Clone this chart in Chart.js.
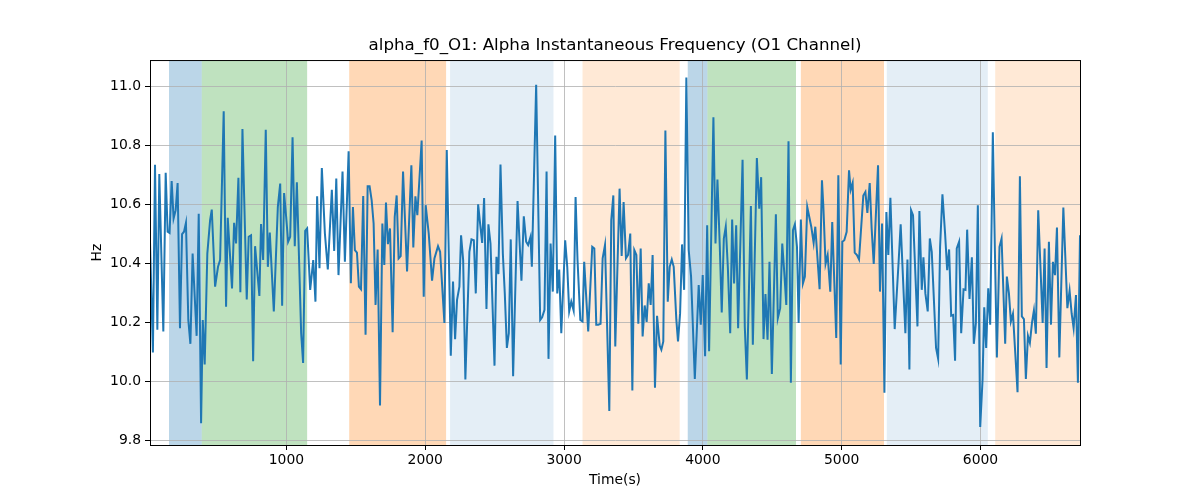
<!DOCTYPE html>
<html>
<head>
<meta charset="utf-8">
<script src="https://cdn.jsdelivr.net/npm/chart.js@4/dist/chart.umd.min.js"></script>
<style>
  body { margin: 0; background: #fff; }
</style>
</head>
<body>
<canvas id="myChart" width="1200" height="500"></canvas>
<script>
// time axis (seconds) and instantaneous alpha frequency (Hz)
const timeSec = [
  17, 38, 53, 70, 84, 113, 130, 144, 158, 173, 187, 202, 216, 233, 248, 262, 276, 293, 308, 324,
  353, 368, 385, 397, 411, 430, 450, 462, 486, 507, 522, 548, 565, 577, 608, 623, 637, 654, 668, 683,
  714, 728, 745, 760, 774, 805, 817, 832, 851, 866, 880, 909, 938, 955, 969, 983, 998, 1012, 1027, 1044,
  1060, 1075, 1106, 1120, 1135, 1149, 1171, 1193, 1209, 1221, 1238, 1255, 1277, 1298, 1327, 1344, 1359, 1375,
  1404, 1421, 1448, 1464, 1479, 1493, 1508, 1522, 1537, 1553, 1570, 1585, 1599, 1614, 1628, 1642, 1657, 1674,
  1691, 1705, 1717, 1731, 1746, 1765, 1780, 1794, 1808, 1823, 1840, 1869, 1900, 1914, 1929, 1943, 1974, 1989,
  2003, 2025, 2049, 2066,
  2092, 2107, 2138, 2155, 2184, 2200, 2215, 2229, 2246, 2258, 2273, 2289, 2318, 2333, 2350, 2364, 2381, 2395,
  2410, 2424, 2441, 2455, 2470, 2499, 2513, 2527, 2542, 2559, 2573, 2588, 2602, 2616, 2633, 2665, 2693, 2710,
  2727, 2741, 2758, 2768,
  2799, 2828, 2842, 2859, 2874, 2888, 2903, 2919, 2936, 2951, 2965, 2980, 3008, 3023, 3037, 3052, 3069, 3083,
  3097, 3117, 3133, 3145, 3174, 3203, 3218, 3232, 3246, 3263, 3278, 3295, 3326, 3340, 3355, 3369, 3400, 3415, 3429,
  3446, 3461, 3477, 3492, 3506, 3521, 3535, 3552, 3566, 3581, 3595, 3610, 3624, 3638, 3655, 3670, 3689, 3701,
  3715, 3730, 3747, 3761, 3776, 3790, 3809, 3821, 3836, 3850, 3865, 3881, 3898, 3915, 3942, 3970, 3985, 3999,
  4016, 4031, 4045, 4076, 4091, 4105, 4122,
  4136, 4151, 4165, 4180, 4197, 4211, 4225, 4240, 4254, 4286, 4302, 4317, 4346, 4360, 4389, 4406, 4420, 4437,
  4451, 4466, 4480, 4497, 4526, 4540, 4557, 4572, 4586, 4601, 4617, 4634, 4649, 4663, 4678, 4690, 4706, 4721,
  4735, 4752, 4781, 4798,
  4810, 4841, 4858, 4868, 4884, 4899, 4918, 4932, 4961, 4976, 4993, 5005, 5019, 5036, 5053, 5065, 5079, 5094,
  5110, 5125, 5156, 5171, 5185, 5202, 5216, 5231, 5262, 5276, 5291, 5308, 5322, 5336, 5351, 5382, 5411, 5425,
  5459, 5474, 5488,
  5500, 5514, 5546, 5560, 5577, 5589, 5603, 5620, 5635, 5649, 5680, 5695, 5709, 5726, 5745, 5760, 5774, 5789,
  5803, 5817, 5829, 5846, 5861, 5878, 5892, 5904, 5921, 5938, 5952, 5967, 5981, 5998, 6015, 6027, 6041, 6056,
  6070, 6089, 6104, 6118, 6137, 6152, 6178,
  6190, 6205, 6219, 6234, 6267, 6284, 6298, 6313, 6327, 6342, 6356, 6371, 6385, 6399, 6416, 6448, 6462, 6476,
  6493, 6508, 6522, 6537, 6551, 6568, 6597, 6626, 6642, 6657, 6671, 6688, 6702, 6717
];

const freqHz = [
  10.475, 10.10, 10.736, 10.177, 10.705, 10.171, 10.709, 10.509, 10.505, 10.681, 10.554, 10.582, 10.674, 10.182, 10.501, 10.509, 10.539, 10.21, 10.129, 10.435,
  10.156, 10.57, 9.86, 10.21, 10.059, 10.435, 10.548, 10.584, 10.323, 10.39, 10.413, 10.917, 10.255, 10.556, 10.317, 10.539, 10.469, 10.692, 10.304, 10.857,
  10.279, 10.492, 10.497, 10.07, 10.46, 10.291, 10.535, 10.413, 10.855, 10.39, 10.506, 10.239, 10.593, 10.672, 10.258, 10.64, 10.559, 10.475, 10.492, 10.829,
  10.46, 10.677, 10.165, 10.064, 10.512, 10.52, 10.312, 10.413, 10.272, 10.629, 10.385, 10.725, 10.503, 10.381, 10.651, 10.444, 10.689, 10.362,
  10.713, 10.407, 10.782, 10.334, 10.593, 10.447, 10.438, 10.323, 10.314, 10.63, 10.16, 10.663, 10.663, 10.615, 10.537, 10.261, 10.449, 9.92,
  10.537, 10.396, 10.608, 10.467, 10.52, 10.168, 10.559, 10.632, 10.418, 10.426, 10.713, 10.374, 10.734, 10.456, 10.629, 10.565, 10.818, 10.289,
  10.599, 10.503, 10.343, 10.418,
  10.46, 10.441, 10.2, 10.786, 10.089, 10.34, 10.145, 10.278, 10.323, 10.497, 10.413, 10.008, 10.441, 10.483, 10.48, 10.3, 10.602, 10.537,
  10.471, 10.623, 10.247, 10.534, 10.469, 10.055, 10.424, 10.365, 10.737, 10.435, 10.3, 10.115, 10.165, 10.483, 10.019, 10.613, 10.343, 10.561,
  10.475, 10.464, 10.491, 10.39,
  11.007, 10.21, 10.219, 10.244, 10.713, 10.078, 10.469, 10.306, 10.835, 10.3, 10.381, 10.165, 10.48, 10.39, 10.239, 10.272, 10.242, 10.627,
  10.413, 10.21, 10.205, 10.407, 10.171, 10.458, 10.452, 10.194, 10.194, 10.197, 10.419, 10.464, 9.901, 10.548, 10.632, 10.12, 10.655, 10.427, 10.61,
  10.419, 10.43, 10.503, 9.971, 10.447, 10.43, 10.197, 10.452, 10.154, 10.259, 10.203, 10.334, 10.261, 10.43, 9.98, 10.224, 10.123, 10.109,
  10.137, 10.852, 10.272, 10.39, 10.415, 10.39, 10.21, 10.137, 10.233, 10.466, 10.312, 11.032, 10.447, 10.357, 10.01, 10.328, 10.194, 10.362,
  10.087, 10.531, 10.104, 10.897, 10.469, 10.686, 10.458,
  10.235, 10.486, 10.526, 10.388, 10.165, 10.55, 10.334, 10.531, 10.182, 10.753, 10.188, 10.008, 10.596, 10.126, 10.759, 10.587, 10.694, 10.145,
  10.298, 10.143, 10.407, 10.027, 10.568, 10.216, 10.25, 10.469, 10.374, 10.261, 10.816, 9.997, 10.514, 10.534, 10.458, 10.2, 10.55, 10.334,
  10.357, 10.593, 10.526, 10.471,
  10.526, 10.314, 10.683, 10.595, 10.4, 10.43, 10.306, 10.542, 10.149, 10.7, 10.059, 10.475, 10.48, 10.509, 10.717, 10.651, 10.674, 10.438,
  10.43, 10.415, 10.632, 10.644, 10.573, 10.674, 10.52, 10.4, 10.734, 10.306, 10.537, 9.963, 10.576, 10.43, 10.624, 10.179, 10.413, 10.534,
  10.165, 10.415, 10.042,
  10.582, 10.565, 10.188, 10.579, 10.312, 10.422, 10.3, 10.239, 10.486, 10.441, 10.115, 10.078, 10.458, 10.636, 10.503, 10.379, 10.449, 10.224,
  10.227, 10.072, 10.452, 10.475, 10.165, 10.314, 10.312, 10.516, 10.281, 10.422, 10.129, 10.2, 10.599, 9.847, 10.008, 10.253, 10.115, 10.317,
  10.194, 10.846, 10.441, 10.083, 10.458, 10.486, 10.129,
  10.357, 10.3, 10.205, 10.231, 9.965, 10.697, 10.222, 10.213, 10.01, 10.156, 10.132, 10.2, 10.242, 10.163, 10.582, 10.2, 10.452, 10.047,
  10.475, 10.194, 10.407, 10.362, 10.523, 10.083, 10.591, 10.25, 10.309, 10.231, 10.182, 10.294, 9.997, 10.497
];

// shaded segments (seconds) and which kind each one is
const bandStart = [154, 390, 1452, 2179, 3133, 3891, 4033, 4706, 5325, 6106];
const bandEnd   = [390, 1149, 2150, 2924, 3833, 4033, 4671, 5305, 6053, 6717];
const bandKind  = ['blue', 'green', 'orange', 'lightblue', 'lightorange',
                   'blue', 'green', 'orange', 'lightblue', 'lightorange'];

const xTicks = [1000, 2000, 3000, 4000, 5000, 6000];
const yTicks = [9.8, 10.0, 10.2, 10.4, 10.6, 10.8, 11.0];

const bandColors = {
  blue: 'rgba(31,119,180,0.3)',
  green: 'rgba(44,160,44,0.3)',
  orange: 'rgba(255,127,14,0.3)',
  lightblue: 'rgba(31,119,180,0.12)',
  lightorange: 'rgba(255,127,14,0.17)'
};

const bandsPlugin = {
  id: 'bands',
  beforeDraw(chart) {
    const { ctx, chartArea: a, scales: { x } } = chart;
    ctx.save();
    ctx.fillStyle = '#fff';
    ctx.fillRect(0, 0, chart.width, chart.height);
    bandStart.forEach((s, i) => {
      const x0 = Math.max(x.getPixelForValue(s), a.left);
      const x1 = Math.min(x.getPixelForValue(bandEnd[i]), a.right);
      ctx.fillStyle = bandColors[bandKind[i]];
      ctx.fillRect(x0, a.top, x1 - x0, a.bottom - a.top);
    });
    ctx.restore();
  },
  afterDraw(chart) {
    // matplotlib style frame round the axes
    const { ctx, chartArea: a } = chart;
    ctx.save();
    ctx.strokeStyle = '#000';
    ctx.lineWidth = 1;
    ctx.strokeRect(a.left + 0.5, a.top + 0.5, a.right - a.left, a.bottom - a.top);
    ctx.restore();
  }
};

Chart.defaults.font.family = 'DejaVu Sans';
Chart.defaults.font.size = 13.9;
Chart.defaults.color = '#000';

const ctx = document.getElementById('myChart').getContext('2d');
new Chart(ctx, {
  type: 'line',
  data: {
    datasets: [{
      label: 'alpha_f0_O1',
      data: timeSec.map((t, i) => ({ x: t, y: freqHz[i] })),
      borderColor: '#1f77b4',
      borderWidth: 2,
      pointRadius: 0,
      tension: 0,
      fill: false
    }]
  },
  options: {
    responsive: false,
    animation: false,
    devicePixelRatio: 1,
    layout: { padding: { left: 80, right: 120, top: 0, bottom: 0 } },
    plugins: {
      legend: { display: false },
      tooltip: { enabled: false },
      title: {
        display: true,
        fullSize: false,
        text: 'alpha_f0_O1: Alpha Instantaneous Frequency (O1 Channel)',
        font: { size: 16.7, weight: 'normal' },
        color: '#000',
        padding: { top: 36, bottom: 4 }
      }
    },
    scales: {
      x: {
        type: 'linear',
        min: timeSec[0],
        max: timeSec[timeSec.length - 1],
        afterFit: s => { s.height = 55; },
        afterBuildTicks: s => { s.ticks = xTicks.map(v => ({ value: v })); },
        border: { display: true, color: '#000', width: 1 },
        grid: { color: '#b0b0b0', lineWidth: 0.8, tickColor: '#000', tickLength: 5, tickWidth: 1 },
        ticks: {
          autoSkip: false,
          maxRotation: 0,
          padding: 2,
          callback: v => String(v)
        },
        title: { display: true, text: 'Time(s)', padding: { top: 0, bottom: 11 } }
      },
      y: {
        min: 9.786,
        max: 11.091,
        afterFit: s => { s.width = 70; },
        afterBuildTicks: s => { s.ticks = yTicks.map(v => ({ value: v })); },
        border: { display: true, color: '#000', width: 1 },
        grid: { color: '#b0b0b0', lineWidth: 0.8, tickColor: '#000', tickLength: 5, tickWidth: 1 },
        ticks: {
          padding: 4,
          callback: v => Number(v).toFixed(1)
        },
        title: { display: true, text: 'Hz', padding: { top: 9, bottom: 0 } }
      }
    }
  },
  plugins: [bandsPlugin]
});
</script>
</body>
</html>
